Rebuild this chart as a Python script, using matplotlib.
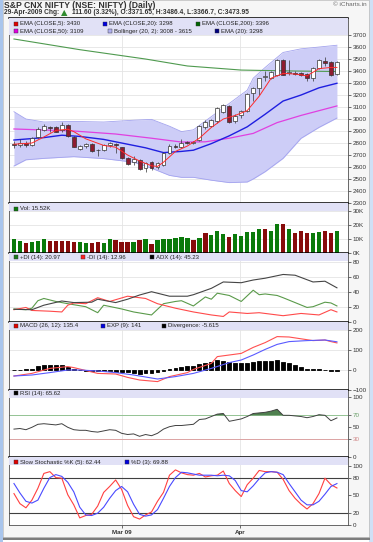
import numpy as np
import matplotlib.pyplot as plt
from matplotlib.patches import Rectangle

plt.rcParams['font.family'] = ['Liberation Sans', 'DejaVu Sans']

# ---- data (55 daily sessions, index 0..54) ----
opens = [2790, 2785, 2800, 2785, 2850, 2910, 2935, 2930, 2905, 2950,
         2850, 2752, 2775, 2792, 2745, 2745, 2780, 2795, 2765, 2672,
         2640, 2658, 2590, 2638, 2598, 2617, 2719, 2778, 2765, 2808,
         2803, 2825, 2930, 2945, 2980, 3061, 3111, 2980, 3030, 3067,
         3214, 3256, 3350, 3344, 3367, 3492, 3380, 3385, 3382, 3372,
         3339, 3428, 3480, 3472, 3371.65]
highs = [2815, 2830, 2815, 2850, 2935, 2960, 2945, 2940, 2975, 2960,
         2860, 2785, 2800, 2800, 2750, 2790, 2805, 2800, 2770, 2680,
         2690, 2665, 2640, 2650, 2640, 2725, 2790, 2790, 2830, 2815,
         2815, 2950, 2990, 3000, 3100, 3125, 3115, 3040, 3075, 3215,
         3265, 3345, 3400, 3400, 3500, 3500, 3490, 3400, 3395, 3380,
         3435, 3500, 3520, 3480, 3486.4]
lows = [2760, 2770, 2770, 2775, 2840, 2900, 2890, 2890, 2895, 2850,
        2765, 2740, 2760, 2725, 2695, 2735, 2770, 2720, 2670, 2615,
        2620, 2575, 2560, 2575, 2580, 2605, 2710, 2755, 2755, 2790,
        2790, 2820, 2915, 2930, 2970, 3050, 2970, 2965, 3010, 3060,
        3150, 3200, 3320, 3330, 3360, 3367, 3365, 3370, 3360, 3320,
        3320, 3420, 3440, 3360, 3366.7]
closes = [2785, 2800, 2785, 2845, 2920, 2940, 2925, 2895, 2950, 2858,
          2770, 2778, 2795, 2730, 2740, 2780, 2800, 2785, 2675, 2622,
          2670, 2582, 2635, 2590, 2630, 2719, 2778, 2765, 2803, 2804,
          2808, 2944, 2978, 2992, 3089, 3117, 2978, 3028, 3067, 3208,
          3261, 3339, 3355, 3389, 3492, 3367, 3395, 3378, 3370, 3339,
          3428, 3492, 3470, 3367, 3473.95]

ema5_x = [0, 3, 5, 7, 9, 10, 12, 15, 17, 19, 21, 23, 24, 25, 27, 29, 31,
          33, 35, 37, 39, 41, 43, 45, 47, 49, 51, 53, 54]
ema5 = [2790, 2800, 2850, 2905, 2915, 2895, 2835, 2780, 2765, 2700, 2650,
        2610, 2605, 2640, 2730, 2775, 2840, 2930, 3000, 3030, 3070, 3190,
        3340, 3380, 3375, 3360, 3420, 3430, 3430]
ema20_x = [0, 5, 8, 11, 15, 18, 22, 25, 28, 30, 33, 36, 39, 42, 45, 48, 51, 54]
ema20 = [2825, 2845, 2865, 2855, 2830, 2800, 2760, 2720, 2730, 2740, 2795,
         2860, 2935, 3040, 3150, 3200, 3260, 3298]
ema50_x = [0, 10, 17, 23, 28, 32, 36, 40, 44, 48, 54]
ema50 = [2917, 2900, 2875, 2840, 2808, 2810, 2840, 2880, 2970, 3030, 3109]
ema200_x = [0, 11, 22, 29, 38, 47, 54]
ema200 = [3667, 3578, 3500, 3442, 3408, 3400, 3396]
boll_up_x = [0, 2, 5, 10, 15, 20, 23, 26, 28, 30, 33, 36, 39, 40, 42, 45, 48, 51, 54]
boll_up = [3061, 3000, 2975, 2980, 2975, 2990, 2997, 2940, 2895, 2910, 3020,
           3130, 3240, 3340, 3430, 3555, 3585, 3600, 3615]
boll_lo = [2608, 2660, 2672, 2686, 2670, 2640, 2590, 2530, 2514, 2514, 2490,
           2470, 2475, 2500, 2561, 2672, 2839, 2930, 3008]

vol_k = [10, 8.5, 7, 7.5, 8.5, 10, 8.7, 8.3, 8.3, 8.3,
         7.5, 8, 7, 6.8, 7.6, 7, 9.5, 9.3, 7.5, 8,
         8, 9.3, 9.5, 6.5, 9, 10, 9.7, 10.5, 11, 10.8,
         9.3, 10.8, 14, 13, 16, 13.5, 11, 13.5, 12, 15,
         15, 17.5, 17.5, 15.5, 21, 21, 17.5, 14.5, 15.5, 14,
         14, 15, 15.5, 14, 15.52]
vol_up = [1, 1, 0, 1, 1, 1, 0, 0, 0, 0,
          0, 1, 1, 0, 0, 1, 1, 0, 0, 0,
          1, 0, 1, 0, 1, 1, 1, 1, 1, 1,
          0, 1, 0, 1, 1, 1, 0, 1, 1, 1,
          1, 1, 0, 1, 1, 0, 1, 0, 0, 0,
          1, 1, 0, 0, 1]

pdi_x = [0, 2, 3, 4, 5, 7, 9, 12, 14, 15, 18, 20, 23, 25, 27, 28, 30, 32, 33,
         34, 36, 38, 40, 41, 42, 44, 45, 49, 50, 52, 53, 54]
pdi = [17, 16, 18, 28, 31, 27, 24, 20, 12, 22, 17, 13, 9, 24, 27, 28, 21, 33,
       30, 38, 35, 27, 42, 36, 37, 35, 32, 19, 20, 26, 25, 21]
mdi_x = [0, 2, 3, 6, 8, 9, 10, 12, 14, 16, 19, 20, 22, 24, 27, 30, 33, 35, 36,
         39, 41, 44, 45, 48, 51, 53, 54]
mdi = [16, 19, 15, 14, 13, 22, 25, 24, 32, 27, 34, 33, 31, 24, 18, 13, 9, 7,
       13, 11, 12, 9, 8, 11, 9, 16, 13]
adx_x = [0, 3, 5, 8, 10, 13, 14, 17, 19, 21, 23, 26, 29, 30, 33, 35, 38, 40,
         42, 45, 47, 50, 52, 54]
adx = [16.5, 16, 22, 27.6, 25.5, 26, 30, 25.5, 30, 35.6, 40, 34, 34, 36, 44.5,
       53, 52, 55.6, 58, 63, 62, 53, 54, 45.2]

macd_x = [0, 3, 6, 9, 10, 14, 17, 19, 21, 24, 26, 29, 30, 33, 34, 38, 40, 42,
          44, 46, 50, 52, 53, 54]
macd = [-30, -17, 8, 17, 12, -17, -20, -37, -50, -58, -33, -13, 3, 33, 67,
        83, 113, 137, 167, 165, 147, 150, 142, 135.4]
sig_x = [0, 3, 6, 9, 11, 14, 17, 20, 24, 27, 30, 33, 36, 38, 40, 42, 44, 46,
         49, 52, 54]
sig = [-30, -25, -13, 0, 0, -5, -13, -25, -45, -33, -17, 8, 37, 50, 75, 103,
       128, 142, 147, 150, 141]
diverg = [1, 2, 3, 5, 18, 23, 24, 24, 24, 17,
          5, 2, -3, -5, -6, -6, -7, -8, -9, -11,
          -14, -18, -17, -15, -12, -3, 3, 10, 15, 18,
          22, 28, 35, 38, 50, 45, 40, 37, 35, 37,
          42, 45, 45, 47, 48, 42, 35, 25, 15, 6,
          4, 3, 2, -4, -5.6]

rsi = [47, 48, 46, 50, 55, 56, 55, 54, 56, 50,
       46, 45, 45, 43, 42, 44, 46, 45, 40, 38,
       39, 35, 38, 36, 40, 47, 51, 53, 53, 54,
       55, 63, 64, 68, 72, 73, 60, 62, 64, 68,
       73, 74, 75, 77, 80, 70, 70, 69, 68, 66,
       68, 71, 70, 61, 65.6]

stoch_k = [53, 36, 29, 42, 62, 87, 90, 80, 79, 51,
           34, 12, 16, 18, 32, 55, 65, 76, 60, 33,
           14, 10, 17, 22, 40, 55, 84, 93, 88, 85,
           84, 87, 81, 83, 84, 91, 70, 58, 48, 68,
           79, 92, 90, 90, 89, 77, 58, 45, 35, 27,
           36, 53, 79, 68, 62.44]
stoch_d = [70, 54, 40, 37, 42, 62, 80, 85, 82, 72,
           56, 30, 17, 16, 20, 30, 45, 58, 65, 56,
           35, 18, 15, 17, 26, 45, 65, 80, 89, 88,
           86, 84, 84, 84, 83, 84, 83, 75, 58, 56,
           66, 78, 88, 90, 89, 85, 70, 56, 42, 34,
           34, 40, 52, 65, 69.88]

month_pos = [18.1, 37.8]
month_labels = ['Mar 09', 'Apr']

# ---- figure ----
W, H = 373, 542
fig = plt.figure(figsize=(W / 100, H / 100), dpi=100, facecolor='white')

# card background + frame
fig.add_artist(Rectangle((0, 0), 3 / W, 1, transform=fig.transFigure,
                         fc='#a9c5ec', ec='none', zorder=0))
fig.add_artist(Rectangle((369 / W, 0), 4 / W, 1, transform=fig.transFigure,
                         fc='#cfe0f6', ec='none', zorder=0))
fig.add_artist(Rectangle((3 / W, 1 - 540 / H), 367 / W, 3 / H, transform=fig.transFigure,
                         fc='#7d7d7d', ec='none', zorder=0))
fig.add_artist(Rectangle((3 / W, 1 - 537 / H), 366 / W, 537 / H, transform=fig.transFigure,
                         fc='#f6f6f6', ec='#b8b8b8', lw=0.5, zorder=0))

x = np.arange(len(closes))
X0, X1 = 9, 347.7


def panel(y0, y1, ylim):
    ax = fig.add_axes([X0 / W, 1 - y1 / H, (X1 - X0) / W, (y1 - y0) / H])
    ax.set_facecolor('white')
    ax.set_xlim(-0.83, 55.8)
    ax.set_ylim(*ylim)
    ax.yaxis.tick_right()
    ax.tick_params(axis='y', direction='out', length=2, width=0.5, labelsize=4.5,
                   pad=1.5, colors='#333333')
    ax.tick_params(axis='x', length=0, labelbottom=False)
    ax.set_xticks(month_pos)
    ax.grid(True, color='#e4e4e4', lw=0.6)
    ax.set_axisbelow(True)
    for s in ax.spines.values():
        s.set_color('#505050')
        s.set_linewidth(0.6)
    ax.spines['top'].set_color('black')
    ax.spines['top'].set_linewidth(1.1)
    # lavender legend band
    band = 17 if y0 < 30 else 8
    ax.add_patch(Rectangle((0, 1 - band / (y1 - y0)), 1, band / (y1 - y0),
                           transform=ax.transAxes, fc='#e1e1f6', ec='none', zorder=5))
    return ax


def legend_item(xp, yp, color, label):
    fig.add_artist(Rectangle((xp / W, 1 - (yp + 2) / H), 4 / W, 4 / H,
                             transform=fig.transFigure, fc=color, ec='#333333',
                             lw=0.3, zorder=10))
    fig.text((xp + 6) / W, 1 - yp / H, label, fontsize=4.3, color='#222222',
             va='center', ha='left', zorder=11)


# title
fig.text(4 / W, 1 - 5 / H, 'S&P CNX NIFTY (NSE: NIFTY) (Daily)', fontsize=6.2,
         fontweight='bold', color='#333333', va='center')
fig.text(4 / W, 1 - 12.9 / H, '29-Apr-2009 Chg:', fontsize=4.8, fontweight='bold',
         color='#333333', va='center')
fig.text(61 / W, 1 - 12.5 / H, '\u25b2', fontsize=6, color='#2e8b2e', va='center',
         family='DejaVu Sans')
fig.text(72 / W, 1 - 12.9 / H,
         '111.60 (3.32%), O:3371.65, H:3486.4, L:3366.7, C:3473.95',
         fontsize=4.8, fontweight='bold', color='#333333', va='center')
fig.text(367 / W, 1 - 5 / H, '\u00a9 iCharts.in', fontsize=4.6, color='#666666',
         va='center', ha='right')

# ---- price panel ----
ax = panel(18, 203, (2300, 3842))
ax.set_yticks(np.arange(2300, 3701, 100))
ax.fill_between(boll_up_x, boll_lo, boll_up, color='#cdcdf7', lw=0, zorder=1)
ax.plot(boll_up_x, boll_up, color='#a3a3ee', lw=0.6, zorder=1)
ax.plot(boll_up_x, boll_lo, color='#a3a3ee', lw=0.6, zorder=1)
ax.plot(ema200_x, ema200, color='#4f9a4f', lw=0.8, zorder=2)
ax.plot(ema50_x, ema50, color='#e040e0', lw=0.9, zorder=2)
ax.plot(ema20_x, ema20, color='#1f1fe0', lw=1.0, zorder=2)
o = np.array(opens)
c = np.array(closes)
up = c >= o
ax.vlines(x, lows, highs, color='#333333', lw=0.5, zorder=3)
ax.bar(x, np.maximum(np.abs(c - o), 1), bottom=np.minimum(o, c), width=0.65,
       color=np.where(up, 'white', '#8e1c30'), edgecolor='#333333', lw=0.5, zorder=4)
ax.plot(ema5_x, ema5, color='#ff2a2a', lw=0.7, zorder=4.5)

legend_item(13.7, 24, '#e00000', 'EMA (CLOSE,5): 3430')
legend_item(103, 24, '#0000e0', 'EMA (CLOSE,20): 3298')
legend_item(196, 24, '#006400', 'EMA (CLOSE,200): 3396')
legend_item(13.7, 31.3, '#e000e0', 'EMA (CLOSE,50): 3109')
legend_item(107.7, 31.3, '#b0b0f0', 'Bollinger (20, 2): 3008 - 3615')
legend_item(215, 31.3, '#000080', 'EMA (20): 3298')

# ---- volume panel ----
ax = panel(203, 252.5, (0, 36.1))
ax.set_yticks([0, 10, 20, 30])
ax.set_yticklabels(['0K', '10K', '20K', '30K'])
ax.bar(x, vol_k, width=0.72, color=['#0a7a0a' if u else '#870b0b' for u in vol_up],
       zorder=3)
legend_item(13.7, 208.7, '#0a7a0a', 'Vol: 15.52K')

# ---- DI / ADX panel ----
ax = panel(252.5, 321.7, (0, 92.3))
ax.set_yticks([0, 20, 40, 60, 80])
ax.plot(pdi_x, pdi, color='#5a9a4a', lw=0.8, zorder=3)
ax.plot(mdi_x, mdi, color='#ff4a4a', lw=0.8, zorder=3)
ax.plot(adx_x, adx, color='#454545', lw=0.8, zorder=3)
legend_item(13.7, 257.3, '#1a7a1a', '+DI (14): 20.97')
legend_item(80.7, 257.3, '#ff2020', '-DI (14): 12.96')
legend_item(149.7, 257.3, '#000000', 'ADX (14): 45.23')

# ---- MACD panel ----
ax = panel(321.7, 390, (-100, 241.5))
ax.set_yticks([-100, 0, 100, 200])
ax.bar(x, diverg, width=0.65, color='black', edgecolor='black', lw=0.6, zorder=3)
ax.plot(macd_x, macd, color='#ff5050', lw=0.8, zorder=4)
ax.plot(sig_x, sig, color='#5a5aff', lw=0.8, zorder=4)
legend_item(13.7, 325.7, '#e00000', 'MACD (26, 12): 135.4')
legend_item(100.7, 325.7, '#0000e0', 'EXP (9): 141')
legend_item(162.3, 325.7, '#000000', 'Divergence: -5.615')

# ---- RSI panel ----
ax = panel(390, 457.3, (0, 112.2))
ax.set_yticks([0, 30, 50, 70, 100])
ax.grid(False, axis='y')
ax.axhline(70, color='#93c393', lw=0.7, zorder=2)
ax.axhline(30, color='#dba3a3', lw=0.7, zorder=2)
rsi_a = np.array(rsi, dtype=float)
ax.fill_between(x, rsi_a, 70, where=rsi_a > 70, interpolate=True,
                color='#4f804f', lw=0, zorder=3)
ax.plot(x, rsi_a, color='#404040', lw=0.7, zorder=4)
labs = ax.get_yticklabels()
labs[1].set_color('#d08a8a')
labs[3].set_color('#6aa06a')
legend_item(13.7, 393.3, '#000000', 'RSI (14): 65.62')

# ---- Stochastic panel ----
ax = panel(457.3, 525, (0, 114.2))
ax.set_yticks([0, 20, 50, 80, 100])
ax.grid(False, axis='y')
ax.axhline(80, color='#404040', lw=0.8, zorder=2)
ax.axhline(20, color='#404040', lw=0.8, zorder=2)
ax.plot(x, stoch_k, color='#ff4040', lw=0.8, zorder=3)
ax.plot(x, stoch_d, color='#4a4aff', lw=0.8, zorder=3)
ax.tick_params(axis='x', length=2, width=0.5, labelbottom=True, labelsize=4.5,
               pad=1.5, colors='#333333', direction='out')
ax.set_xticklabels(month_labels, fontweight='bold')
legend_item(13.7, 462.3, '#e00000', 'Slow Stochastic %K (5): 62.44')
legend_item(125, 462.3, '#0000e0', '%D (3): 69.88')

fig.savefig('out.png', dpi=100, facecolor=fig.get_facecolor())
